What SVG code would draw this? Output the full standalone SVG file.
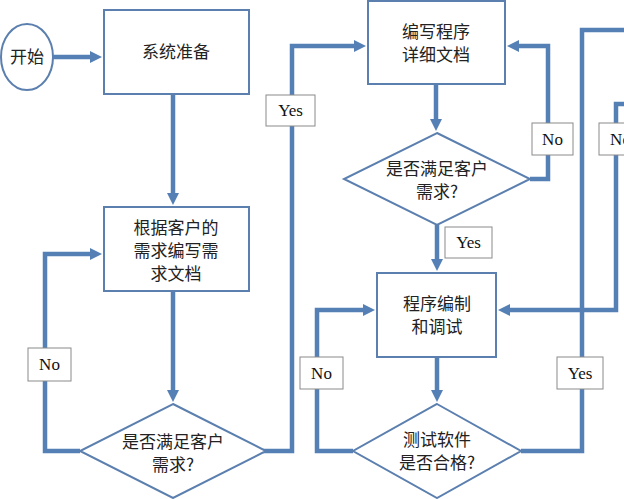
<svg xmlns="http://www.w3.org/2000/svg" width="624" height="499" viewBox="0 0 624 499">
<defs>
<style>
.shape{fill:#fff;stroke:#5b7fae;stroke-width:2}
.conn{fill:none;stroke:#5580b6;stroke-width:4.5;stroke-linejoin:miter}
.lbl{fill:#fff;stroke:#8a8a8a;stroke-width:1}
.cjk{font-family:"Noto Sans CJK SC","Noto Sans",sans-serif;font-size:17px;fill:#222;text-anchor:middle}
.en{font-family:"Liberation Serif",serif;font-size:17px;fill:#111;text-anchor:middle}
</style>
<marker id="arr" viewBox="0 0 12 12" refX="2" refY="6" markerWidth="12" markerHeight="12" markerUnits="userSpaceOnUse" orient="auto">
<path d="M0,0 L12,6 L0,12 z" fill="#5580b6"/>
</marker>
</defs>
<rect width="624" height="499" fill="#fff"/>
<g id="connectors">
<path class="conn" d="M53,57 H92" marker-end="url(#arr)"/>
<path class="conn" d="M173,94 V195" marker-end="url(#arr)"/>
<path class="conn" d="M173,291 V392" marker-end="url(#arr)"/>
<path class="conn" d="M80,451 H45 V254 H92" marker-end="url(#arr)"/>
<path class="conn" d="M263,451 H292 V46 H356" marker-end="url(#arr)"/>
<path class="conn" d="M436,84 V121" marker-end="url(#arr)"/>
<path class="conn" d="M530,179 H548 V46 H517" marker-end="url(#arr)"/>
<path class="conn" d="M437,225 V261" marker-end="url(#arr)"/>
<path class="conn" d="M437,357 V392" marker-end="url(#arr)"/>
<path class="conn" d="M353,451 H317 V310 H365" marker-end="url(#arr)"/>
<path class="conn" d="M521,451 H582 V30 H626"/>
<path class="conn" d="M626,104 H616 V310 H508" marker-end="url(#arr)"/>
</g>
<g id="start">
<ellipse class="shape" cx="27" cy="57" rx="26" ry="33"/>
<text class="cjk" x="27" y="63">开始</text>
</g>
<g id="prepare">
<rect class="shape" x="104" y="10" width="145" height="84"/>
<text class="cjk" x="176" y="58">系统准备</text>
</g>
<g id="reqdoc">
<rect class="shape" x="104" y="207" width="145" height="84"/>
<text class="cjk" x="176" y="234">根据客户的</text>
<text class="cjk" x="176" y="257">需求编写需</text>
<text class="cjk" x="176" y="280">求文档</text>
</g>
<g id="check1">
<polygon class="shape" points="173,404 266,451 173,498 80,451"/>
<text class="cjk" x="173" y="448">是否满足客户</text>
<text class="cjk" x="173" y="471">需求?</text>
</g>
<g id="designdoc">
<rect class="shape" x="368" y="1" width="137" height="83"/>
<text class="cjk" x="436" y="38">编写程序</text>
<text class="cjk" x="436" y="61">详细文档</text>
</g>
<g id="check2">
<polygon class="shape" points="437,133 530,179 437,225 344,179"/>
<text class="cjk" x="437" y="175">是否满足客户</text>
<text class="cjk" x="437" y="198">需求?</text>
</g>
<g id="coding">
<rect class="shape" x="377" y="273" width="119" height="84"/>
<text class="cjk" x="437" y="310">程序编制</text>
<text class="cjk" x="437" y="333">和调试</text>
</g>
<g id="test">
<polygon class="shape" points="437,404 521,451 437,498 353,451"/>
<text class="cjk" x="437" y="446">测试软件</text>
<text class="cjk" x="437" y="469">是否合格?</text>
</g>
<g id="labels">
<g id="lbl-no1"><rect class="lbl" x="28" y="348" width="43" height="33"/><text class="en" x="49.5" y="370">No</text></g>
<g id="lbl-yes1"><rect class="lbl" x="266" y="95" width="49" height="31"/><text class="en" x="290.5" y="116">Yes</text></g>
<g id="lbl-no2"><rect class="lbl" x="532" y="123" width="41" height="32"/><text class="en" x="552.5" y="145">No</text></g>
<g id="lbl-yes2"><rect class="lbl" x="445" y="227" width="47" height="31"/><text class="en" x="468.5" y="248">Yes</text></g>
<g id="lbl-no3"><rect class="lbl" x="300" y="357" width="43" height="32"/><text class="en" x="321.5" y="379">No</text></g>
<g id="lbl-yes3"><rect class="lbl" x="557" y="357" width="46" height="32"/><text class="en" x="580" y="379">Yes</text></g>
<g id="lbl-no4"><rect class="lbl" x="599" y="123" width="43" height="32"/><text class="en" x="620.5" y="145">No</text></g>
</g>
</svg>
